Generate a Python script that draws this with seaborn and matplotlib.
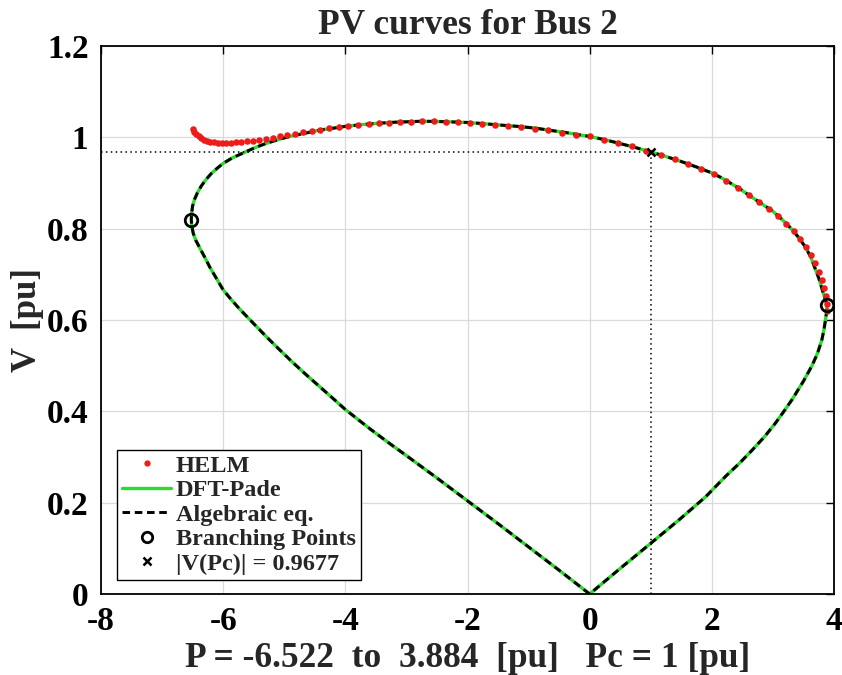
import matplotlib
matplotlib.use("Agg")
import matplotlib.pyplot as plt
from matplotlib.lines import Line2D
import pandas as pd
import seaborn as sns

# PV loop of bus 2 (lower branch from the origin, around both noses, back to the origin)
curve_p = [0.0, -0.5, -1.0, -1.5, -2.0, -2.5, -3.0, -3.3, -3.6, -3.8, -4.0, -4.2, -4.42,
           -4.64, -4.86, -5.07, -5.29, -5.5, -5.73, -5.87, -6.0, -6.11, -6.22, -6.30,
           -6.38, -6.45, -6.49, -6.515, -6.522, -6.515, -6.50, -6.466, -6.42, -6.36,
           -6.29, -6.20, -6.10, -6.0, -5.85, -5.62, -5.45, -5.29, -5.1, -4.91, -4.66,
           -4.42, -4.2, -4.0, -3.72, -3.44, -3.2, -3.0, -2.8, -2.6, -2.3, -2.0, -1.74,
           -1.48, -1.18, -0.88, -0.63, -0.39, -0.2, 0.0, 0.24, 0.48, 0.74, 1.0, 1.25,
           1.5, 1.75, 2.0, 2.15, 2.3, 2.45, 2.6, 2.8, 3.0, 3.15, 3.3, 3.42, 3.53, 3.62,
           3.69, 3.75, 3.80, 3.84, 3.87, 3.884, 3.88, 3.86, 3.835, 3.80, 3.73, 3.64,
           3.50, 3.31, 3.18, 3.04, 2.86, 2.66, 2.45, 2.22, 1.9, 1.46, 1.0, 0.5, 0.0]
curve_v = [0.0, 0.052, 0.103, 0.154, 0.204, 0.254, 0.303, 0.332, 0.362, 0.383, 0.404,
           0.428, 0.454, 0.480, 0.507, 0.534, 0.563, 0.592, 0.624, 0.645, 0.666, 0.691,
           0.716, 0.737, 0.757, 0.775, 0.790, 0.806, 0.820, 0.835, 0.850, 0.865, 0.879,
           0.893, 0.906, 0.920, 0.932, 0.943, 0.955, 0.969, 0.979, 0.987, 0.995, 1.002,
           1.009, 1.016, 1.020, 1.024, 1.028, 1.031, 1.033, 1.034, 1.035, 1.035, 1.034,
           1.0325, 1.030, 1.027, 1.024, 1.020, 1.015, 1.0105, 1.006, 1.002, 0.995, 0.987,
           0.978, 0.968, 0.958, 0.947, 0.935, 0.922, 0.912, 0.900, 0.888, 0.874, 0.856,
           0.838, 0.820, 0.800, 0.781, 0.760, 0.738, 0.713, 0.692, 0.670, 0.652, 0.640,
           0.633, 0.618, 0.600, 0.578, 0.556, 0.527, 0.500, 0.466, 0.425, 0.400, 0.374,
           0.344, 0.315, 0.286, 0.257, 0.213, 0.162, 0.111, 0.056, 0.0]

# HELM solution points
helm_p = [-6.50, -6.47, -6.44, -6.40, -6.36, -6.31, -6.26, -6.21, -6.15, -6.09, -6.02,
          -5.95, -5.87, -5.79, -5.70, -5.61, -5.51, -5.41, -5.30, -5.19, -5.07, -4.95,
          -4.82, -4.69, -4.55, -4.41, -4.26, -4.11, -3.95, -3.79, -3.62, -3.45, -3.28,
          -3.10, -2.92, -2.74, -2.55, -2.36, -2.16, -1.96, -1.76, -1.55, -1.34, -1.12,
          -0.90, -0.68, -0.45, -0.22, 0.01, 0.24, 0.47, 0.70, 0.93, 1.16, 1.39, 1.61,
          1.83, 2.04, 2.24, 2.43, 2.61, 2.78, 2.94, 3.09, 3.22, 3.34, 3.45, 3.54, 3.62,
          3.69, 3.75, 3.80, 3.84, 3.865, 3.88, 3.884]
helm_v = [1.018, 1.012, 1.007, 1.002, 0.998, 0.995, 0.992, 0.990, 0.989, 0.988, 0.988,
          0.988, 0.988, 0.989, 0.990, 0.991, 0.993, 0.995, 0.997, 0.999, 1.002, 1.005,
          1.008, 1.011, 1.014, 1.017, 1.020, 1.022, 1.025, 1.027, 1.029, 1.031, 1.032,
          1.033, 1.034, 1.035, 1.035, 1.034, 1.033, 1.032, 1.030, 1.027, 1.025, 1.022,
          1.019, 1.015, 1.010, 1.006, 1.002, 0.995, 0.988, 0.980, 0.971, 0.962, 0.952,
          0.942, 0.931, 0.919, 0.905, 0.889, 0.873, 0.858, 0.843, 0.827, 0.811, 0.795,
          0.778, 0.760, 0.742, 0.724, 0.706, 0.688, 0.670, 0.652, 0.636, 0.620]

branch_p = [-6.522, 3.884]
branch_v = [0.820, 0.633]
pc = 1.0
v_pc = 0.9677
p_min, p_max = -6.522, 3.884

x_ticks = [-8, -6, -4, -2, 0, 2, 4]
x_tick_labels = ["-8", "-6", "-4", "-2", "0", "2", "4"]
y_ticks = [0, 0.2, 0.4, 0.6, 0.8, 1.0, 1.2]
y_tick_labels = ["0", "0.2", "0.4", "0.6", "0.8", "1", "1.2"]

sns.set_theme(style="whitegrid")
plt.rcParams["font.family"] = ["Liberation Serif", "DejaVu Serif"]
plt.rcParams["font.weight"] = "bold"

fig = plt.figure(figsize=(8.42, 6.75), dpi=100)
ax = fig.add_axes([101 / 842, 1 - 594 / 675, 733 / 842, 548 / 675])
ax.set_facecolor("white")

curve = pd.DataFrame({"P": curve_p, "V": curve_v})
helm = pd.DataFrame({"P": helm_p, "V": helm_v})

green = "#2bdc2b"
red = "#ee1b1b"
dash = (0, (2.6, 1.6))

sns.lineplot(data=curve, x="P", y="V", sort=False, estimator=None, color=green,
             linewidth=2.4, ax=ax, zorder=2)
sns.lineplot(data=curve, x="P", y="V", sort=False, estimator=None, color="black",
             linewidth=2.1, linestyle=dash, ax=ax, zorder=3)
sns.scatterplot(data=helm, x="P", y="V", color=red, s=22, linewidth=0, ax=ax, zorder=4)

# operating point guides
ax.plot([-8, pc], [v_pc, v_pc], color="black", linestyle=(0, (1, 2.2)), linewidth=1.1, zorder=2.5)
ax.plot([pc, pc], [0, v_pc], color="black", linestyle=(0, (1, 2.2)), linewidth=1.1, zorder=2.5)

ax.plot(branch_p, branch_v, linestyle="none", marker="o", markersize=9,
        markerfacecolor="none", markeredgecolor="black", markeredgewidth=2, zorder=5)
ax.plot([pc], [v_pc], linestyle="none", marker="x", markersize=6,
        markeredgecolor="black", markeredgewidth=1.8, zorder=6)

ax.set_xlim(-8, 4)
ax.set_ylim(0, 1.2)
ax.set_xticks(x_ticks)
ax.set_xticklabels(x_tick_labels)
ax.set_yticks(y_ticks)
ax.set_yticklabels(y_tick_labels)
ax.grid(True, color="#dadada", linewidth=0.9)
ax.set_axisbelow(True)
for s in ax.spines.values():
    s.set_color("black")
    s.set_linewidth(1.3)
ax.tick_params(direction="in", length=6, width=1, top=True, right=True,
               labelsize=24, pad=9, colors="black")
for lab in ax.get_xticklabels() + ax.get_yticklabels():
    lab.set_fontweight("bold")

ax.set_title("PV curves for Bus 2", fontsize=25.5, fontweight="bold", pad=9)
ax.set_xlabel(f"P = {p_min}  to  {p_max}  [pu]   Pc = {pc:g} [pu]",
              fontsize=25.5, fontweight="bold", labelpad=3)
ax.set_ylabel("V  [pu]", fontsize=25, fontweight="bold", labelpad=2)

handles = [
    Line2D([], [], linestyle="none", marker="o", markersize=4.5, color=red, markeredgewidth=0),
    Line2D([], [], color=green, linewidth=2.4),
    Line2D([], [], color="black", linewidth=2.1, linestyle=dash),
    Line2D([], [], linestyle="none", marker="o", markersize=7.5, markerfacecolor="none",
           markeredgecolor="black", markeredgewidth=2),
    Line2D([], [], linestyle="none", marker="x", markersize=5.5, markeredgecolor="black",
           markeredgewidth=1.8),
]
labels = ["HELM", "DFT-Pade", "Algebraic eq.", "Branching Points", f"|V(Pc)| = {v_pc}"]
leg = ax.legend(handles, labels, loc="lower left", bbox_to_anchor=(0.0218, 0.0255),
                prop={"family": ["Liberation Serif"], "weight": "bold", "size": 17.5},
                frameon=True, fancybox=False, framealpha=1, edgecolor="black",
                handlelength=2.0, handletextpad=0.2, labelspacing=0.1,
                borderpad=0.22, borderaxespad=0)
leg.get_frame().set_linewidth(1.0)

fig.savefig("out.png", dpi=100, facecolor="white")
